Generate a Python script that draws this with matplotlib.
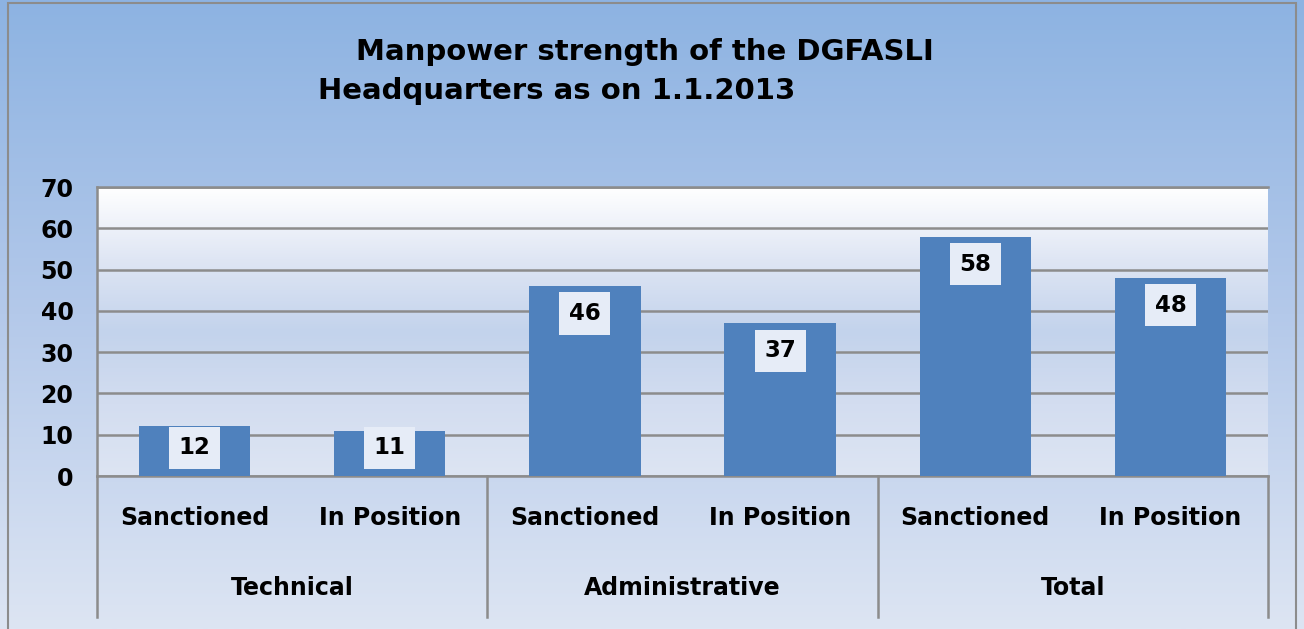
import matplotlib
matplotlib.use("Agg")
import matplotlib.pyplot as plt
import numpy as np
from matplotlib.colors import LinearSegmentedColormap
from matplotlib.patches import Rectangle
from matplotlib.lines import Line2D
import matplotlib.transforms as mtransforms

plt.rcParams['font.family'] = ['DejaVu Sans']

# data
groups = ['Technical', 'Administrative', 'Total']
sub_labels = ['Sanctioned', 'In Position']
values = [12, 11, 46, 37, 58, 48]
y_ticks = [0, 10, 20, 30, 40, 50, 60, 70]

W, H = 1304, 629
fig = plt.figure(figsize=(W / 100, H / 100), dpi=100)

# outer background gradient
bg = fig.add_axes([0, 0, 1, 1], zorder=0)
bg_cmap = LinearSegmentedColormap.from_list('bg', ['#8db3e2', '#b4c9ea', '#dde5f3'])
bg.imshow(np.linspace(0, 1, 256).reshape(-1, 1), cmap=bg_cmap, aspect='auto',
          extent=[0, 1, 0, 1], origin='upper')
bg.set_xlim(0, 1)
bg.set_ylim(0, 1)
bg.axis('off')
# outer frame
bg.add_patch(Rectangle((8 / W, -0.01), (1296 - 8) / W, 1 - 3 / H + 0.01,
                       fill=False, edgecolor='#8c8c8c', lw=1.5))

# main plot area
left, right, top, bottom = 97, 1268, 187, 476
ax = fig.add_axes([left / W, 1 - bottom / H, (right - left) / W, (bottom - top) / H], zorder=1)
ax.set_facecolor('none')
pa_cmap = LinearSegmentedColormap.from_list('pa', ['#ffffff', '#dfe6f4', '#c3d3ec', '#d3ddf0', '#dde5f3'])
ax.imshow(np.linspace(0, 1, 256).reshape(-1, 1), cmap=pa_cmap, aspect='auto',
          extent=[-0.5, 5.5, 0, 70], origin='upper', zorder=0)

x = np.arange(len(values))
ax.bar(x, values, width=0.57, color='#4f81bd', zorder=3)
ax.set_xlim(-0.5, 5.5)
ax.set_ylim(0, 70)
ax.set_yticks(y_ticks)
ax.set_yticklabels([str(t) for t in y_ticks], fontsize=17, fontweight='bold')
ax.tick_params(axis='y', length=0, pad=17)
ax.set_xticks([])
ax.yaxis.grid(True, color='#8c8c8c', lw=1.8, zorder=1)
ax.set_axisbelow(True)
ax.spines['right'].set_visible(False)
for s in ['left', 'top', 'bottom']:
    ax.spines[s].set_color('#8c8c8c')
    ax.spines[s].set_linewidth(1.8)

# value labels: sit inside the top of each bar
px_per_unit = (bottom - top) / 70
for xi, v in zip(x, values):
    off_px = min(27.5, v * px_per_unit - 28)
    ax.annotate(str(v), (xi, v), xytext=(0, -off_px * 0.72), textcoords='offset points',
                ha='center', va='center', fontsize=16.5, fontweight='bold', zorder=5,
                bbox=dict(boxstyle='square,pad=0.42', facecolor='#e6ecf7', edgecolor='none'))

# category labels
trans = mtransforms.blended_transform_factory(ax.transData, fig.transFigure)
for i in range(len(values)):
    ax.text(i, 1 - 518 / H, sub_labels[i % 2], transform=trans, ha='center', va='center',
            fontsize=17, fontweight='bold')
for g, name in enumerate(groups):
    ax.text(2 * g + 0.5, 1 - 588 / H, name, transform=trans, ha='center', va='center',
            fontsize=17, fontweight='bold')
for b in [-0.5, 1.5, 3.5, 5.5]:
    ax.add_line(Line2D([b, b], [1 - bottom / H, 1 - 617 / H], transform=trans,
                       color='#8c8c8c', lw=1.8, clip_on=False))

# title
fig.text(645 / W, 1 - 52 / H, 'Manpower strength of the DGFASLI', ha='center', va='center',
         fontsize=21, fontweight='bold')
fig.text(557 / W, 1 - 91 / H, 'Headquarters as on 1.1.2013', ha='center', va='center',
         fontsize=21, fontweight='bold')

fig.savefig('out.png', dpi=100)
